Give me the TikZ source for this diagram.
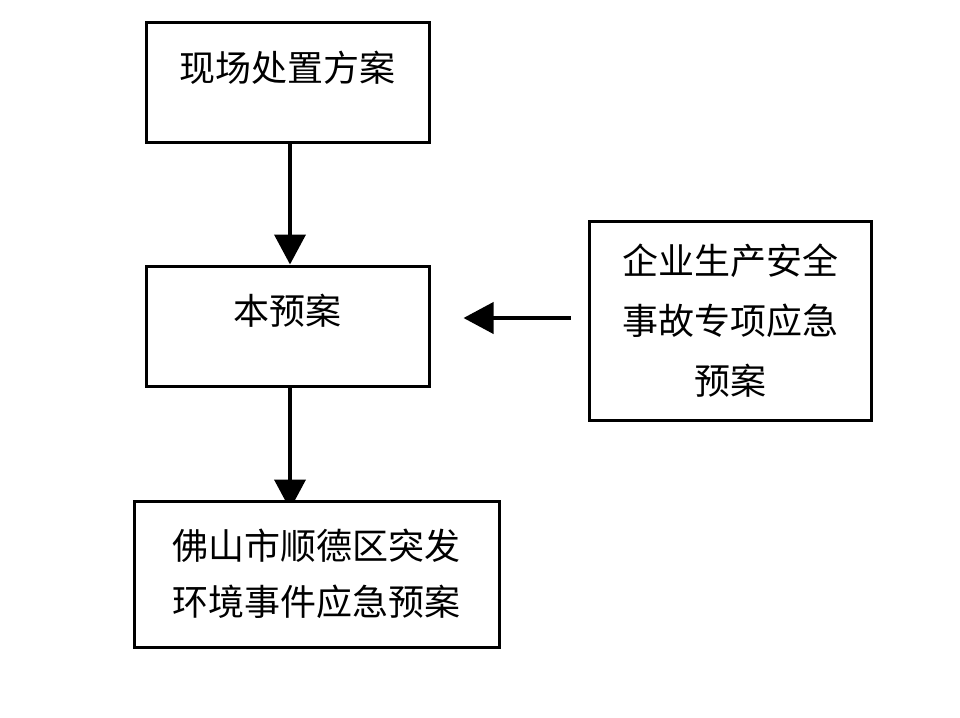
\documentclass[tikz,border=0pt]{standalone}
\usepackage{fontspec}
\setmainfont{Noto Sans CJK SC}
\usepackage{tikz}
\usetikzlibrary{arrows.meta}
\pgfdeclarelayer{background}
\pgfsetlayers{background,main}

\begin{document}
\begin{tikzpicture}[x=1pt, y=-1pt,
		box/.style={draw, line width=3pt, fill=white, align=center, inner sep=0pt, font=\fontsize{36}{60}\selectfont},
		arr/.style={line width=4pt, -{Triangle[width=31pt,length=30pt]}}]
			
			\def \raise {33pt} % pushes single line text up in the box
			
			\useasboundingbox (0,0) rectangle (960,717);
			
			\node[box, minimum width=283pt, minimum height=119pt, text depth=\raise] (xianchang) at (287.5,82.5) {现场处置方案};
			\node[box, minimum width=283pt, minimum height=120pt, text depth=\raise] (benyuan) at (287.5,326) {本预案};
			\node[box, minimum width=282pt, minimum height=199pt] (zhuanxiang) at (730,321) {企业生产安全\\事故专项应急\\预案};
			\node[box, minimum width=365pt, minimum height=146pt, font=\fontsize{36}{56}\selectfont] (shunde) at (316.5,574) {佛山市顺德区突发\\环境事件应急预案};
			
			\begin{pgfonlayer}{background}
				\draw[arr] ([xshift=2.5pt]xianchang.south) -- ([xshift=2.5pt]benyuan.north);
				\draw[arr, shorten >=-10pt] ([xshift=2.5pt]benyuan.south) -- ([xshift=2.5pt]benyuan.south |- shunde.north);
				\draw[arr] ([xshift=-17pt,yshift=3pt]zhuanxiang.west) -- ([xshift=33pt,yshift=8pt]benyuan.east);
			\end{pgfonlayer}
			
		\end{tikzpicture}
\end{document}
